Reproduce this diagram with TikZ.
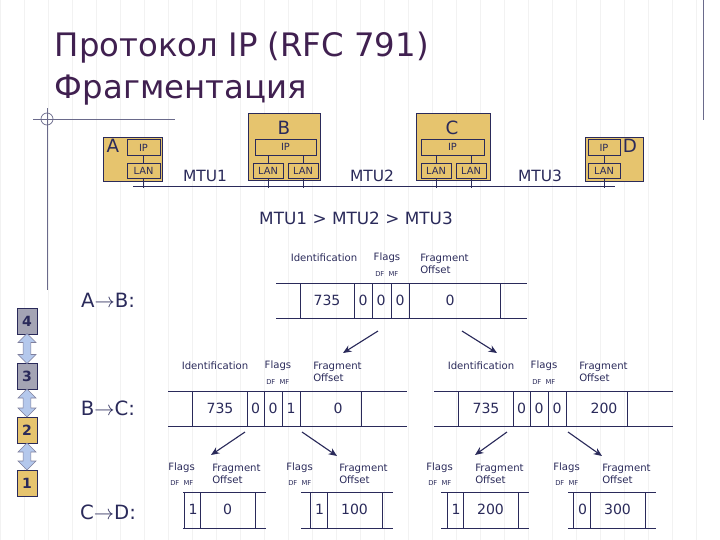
\documentclass[tikz,border=0pt]{standalone}
\usepackage{fontspec}
\setmainfont{DejaVu Sans}
\usetikzlibrary{arrows.meta,shapes.arrows}
\definecolor{ink}{HTML}{2A2A5A}
\definecolor{ttl}{HTML}{402050}
\definecolor{tan}{HTML}{E6C46E}
\definecolor{grayb}{HTML}{A4A4B4}
\definecolor{blu}{HTML}{B4C8EC}
\begin{document}
\begin{tikzpicture}[x=0.25mm,y=-0.25mm,
  host/.style={draw=ink,fill=tan,line width=0.5pt},
  sub/.style={draw=ink,fill=tan,line width=0.5pt,font=\fontsize{7}{8}\selectfont,text=ink,inner sep=0pt},
  hdr/.style={font=\fontsize{7.2}{8.4}\selectfont,text=ink,inner sep=0pt},
  flg/.style={font=\fontsize{4.8}{5}\selectfont,text=ink,inner sep=0pt,anchor=west},
  val/.style={font=\fontsize{10}{12}\selectfont,text=ink,inner sep=0pt},
  big/.style={font=\fontsize{13}{15}\selectfont,text=ink},
  ln/.style={draw=ink,line width=0.6pt},
  arr/.style={draw=ink,line width=0.8pt,-{Stealth[length=6pt,width=5pt]}},
  lvl/.style={draw=ink,minimum width=5mm,minimum height=6.5mm,inner sep=0pt,font=\bfseries\fontsize{10}{12}\selectfont,text=ink},
  dbl/.style={double arrow,draw=ink!60,fill=blu,minimum width=4.5mm,double arrow head extend=0.6mm,inner sep=0.4mm,shape border rotate=90}]
\useasboundingbox (0,0) rectangle (720,540);
% faint grid
\draw[black!5,line width=0.3pt] (0,0) grid[step=24] (720,540);
% title and frame lines
\node[ttl,anchor=west,font=\fontsize{23}{26}\selectfont] (t1) at (50,48) {Протокол IP (RFC 791)};
\node[ttl,anchor=west,font=\fontsize{23}{26}\selectfont] (t2) at (50,90) {Фрагментация};
\draw[ink!70,line width=0.5pt] (33,119) -- (175,119) (47,108) -- (47,290) (703,0) -- (703,120);
\draw[ink!70,line width=0.5pt] (47,119) circle (6);
% hosts
\draw[host] (103,137) rectangle (162,181); \node[big] (a) at (113,146) {A};
\node[sub,minimum width=33*0.25mm,minimum height=16*0.25mm] (aip) at (143.5,147.5) {IP};
\node[sub,minimum width=33*0.25mm,minimum height=15*0.25mm] (alan) at (143.5,170.5) {LAN};
\draw[host] (248,113) rectangle (320,180); \node[big] (b) at (284,128) {B};
\node[sub,minimum width=61*0.25mm,minimum height=16*0.25mm] (bip) at (285.5,147) {IP};
\node[sub,minimum width=30*0.25mm,minimum height=15*0.25mm] (blan1) at (268,170.5) {LAN};
\node[sub,minimum width=30*0.25mm,minimum height=15*0.25mm] (blan2) at (303,170.5) {LAN};
\draw[host] (416,113) rectangle (490,180); \node[big] (c) at (452,128) {C};
\node[sub,minimum width=63*0.25mm,minimum height=16*0.25mm] (cip) at (452.5,147) {IP};
\node[sub,minimum width=30*0.25mm,minimum height=15*0.25mm] (clan1) at (436,170.5) {LAN};
\node[sub,minimum width=30*0.25mm,minimum height=15*0.25mm] (clan2) at (471,170.5) {LAN};
\draw[host] (585,137) rectangle (643,181); \node[big] (d) at (630,146) {D};
\node[sub,minimum width=32*0.25mm,minimum height=16*0.25mm] (dip) at (604,147.5) {IP};
\node[sub,minimum width=32*0.25mm,minimum height=15*0.25mm] (dlan) at (604,170.5) {LAN};
\draw[ln] (aip) -- (alan) (dip) -- (dlan);
\draw[ln] (blan1.north) -- (blan1.north|-bip.south) (blan2.north) -- (blan2.north|-bip.south);
\draw[ln] (clan1.north) -- (clan1.north|-cip.south) (clan2.north) -- (clan2.north|-cip.south);
% network
\draw[ln] (133,186) -- (615,186);
\foreach \n in {alan,blan1,blan2,clan1,clan2,dlan} \draw[ln] (\n.south) -- (\n.south|-0,188);
\node[big,font=\fontsize{11}{13}\selectfont] (m1) at (205,176) {MTU1};
\node[big,font=\fontsize{11}{13}\selectfont] (m2) at (372,176) {MTU2};
\node[big,font=\fontsize{11}{13}\selectfont] (m3) at (540,176) {MTU3};
\node[big,font=\fontsize{12}{14}\selectfont] (mm) at (356,218) {MTU1 > MTU2 > MTU3};
% level stack
\node[lvl,fill=grayb] (l4) at (27,321) {4};
\node[lvl,fill=grayb] (l3) at (27,376) {3};
\node[lvl,fill=tan] (l2) at (27,430) {2};
\node[lvl,fill=tan] (l1) at (27,483) {1};
\path (l4.south) -- node[dbl,minimum height=30*0.25mm] (d43) {} (l3.north);
\path (l3.south) -- node[dbl,minimum height=28*0.25mm] (d32) {} (l2.north);
\path (l2.south) -- node[dbl,minimum height=27*0.25mm] (d21) {} (l1.north);
% row labels
\node[big,font=\fontsize{14}{16}\selectfont] (ab) at (108,300) {A$\rightarrow$B:};
\node[big,font=\fontsize{14}{16}\selectfont] (bc) at (108,408) {B$\rightarrow$C:};
\node[big,font=\fontsize{14}{16}\selectfont] (cd) at (108,512) {C$\rightarrow$D:};
% A->B packet
\draw[ln] (276,283) -- (527,283) (276,318) -- (527,318);
\foreach \x in {300,354,372,391,409,500} \draw[ln] (\x,283) -- (\x,318);
\node[hdr] (h1) at (324,258) {Identification};
\node[hdr] (h2) at (387,258) {Flags};
\node[flg] (h3) at (375,274) {DF\ \ MF};
\node[hdr,anchor=west,align=left] (h4) at (420,264) {Fragment\\Offset};
\node[val] (v1) at (327,300) {735};
\node[val] (v2) at (363,300) {0};
\node[val] (v3) at (381,300) {0};
\node[val] (v4) at (400,300) {0};
\node[val] (v5) at (450,300) {0};
% B->C packets
\foreach \s/\id/\o/\f in {0/735/0/1,266/735/200/0} {
  \begin{scope}[xshift=\s*0.25mm]
  \draw[ln] (168,391) -- (407,391) (168,426) -- (407,426);
  \foreach \x in {192,247,264,282,300,361} \draw[ln] (\x,391) -- (\x,426);
  \node[hdr] at (215,366) {Identification};
  \node[hdr] at (278,366) {Flags};
  \node[flg] at (266,382) {DF\ \ MF};
  \node[hdr,anchor=west,align=left] at (313,372) {Fragment\\Offset};
  \node[val] at (220,408) {\id};
  \node[val] at (255.5,408) {0};
  \node[val] at (273,408) {0};
  \node[val] at (291,408) {\f};
  \node[val] at (338,408) {\o};
  \end{scope}
}
% C->D packets
\foreach \a/\b/\c/\d/\mf/\off in {183/184/200/255/1/0,301/310/327/382/1/100,441/447/463/518/1/200,568/573/590/645/0/300} {
  \draw[ln] (\a,492) -- (\d+11,492) (\a,528) -- (\d+11,528);
  \foreach \x in {\b,\c,\d} \draw[ln] (\x,492) -- (\x,528);
  \node[hdr,anchor=west] at (\a-15,468) {Flags};
  \node[flg] at (\a-13,483) {DF\ \ MF};
  \node[hdr,anchor=west,align=left] at (\c+12,474) {Fragment\\Offset};
  \node[val] at ({(\b+\c)/2+1},509) {\mf};
  \node[val] at ({(\c+\d)/2},509) {\off};
}
% fragmentation arrows
\coordinate (p1) at (378,331); \coordinate (q1) at (343,353);
\coordinate (p2) at (462,331); \coordinate (q2) at (497,353);
\coordinate (p3) at (245,432); \coordinate (q3) at (211,455);
\coordinate (p4) at (302,432); \coordinate (q4) at (337,456);
\coordinate (p5) at (507,432); \coordinate (q5) at (475,455);
\coordinate (p6) at (568,432); \coordinate (q6) at (602,456);
\foreach \i in {1,...,6} \draw[arr] (p\i) -- (q\i);
\end{tikzpicture}
\end{document}
